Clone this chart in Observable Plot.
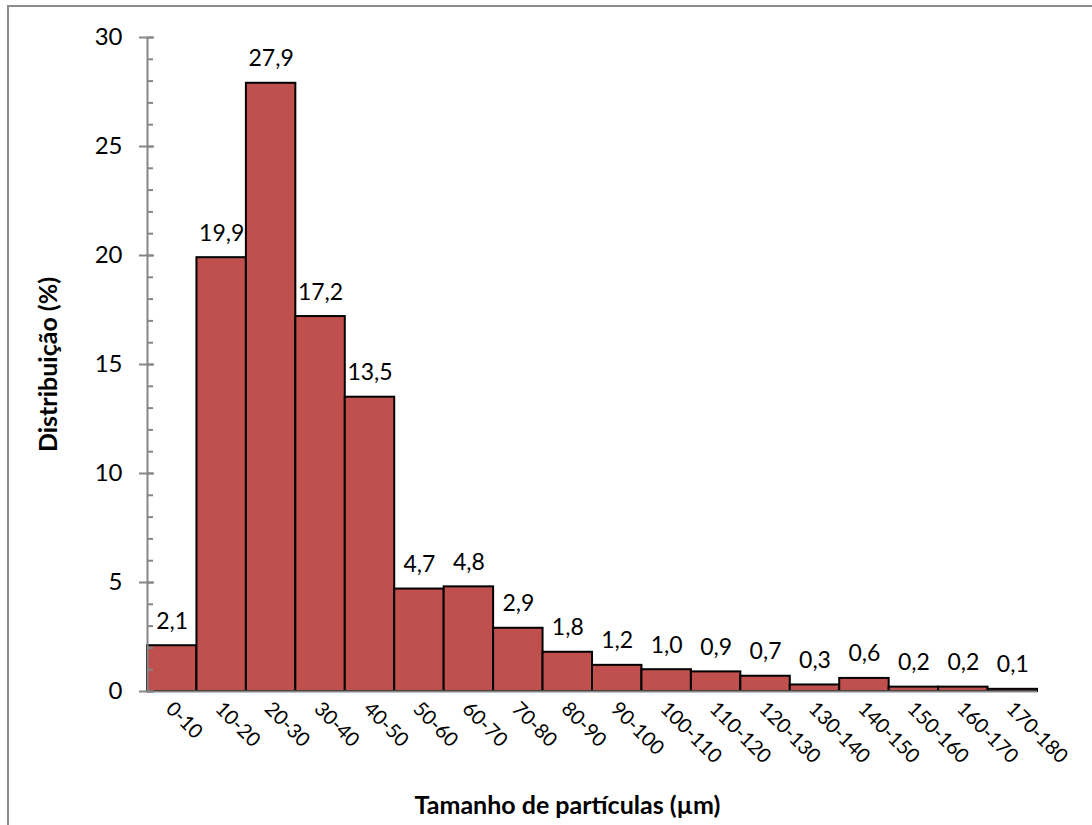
<!DOCTYPE html>
<html>
<head>
<meta charset="utf-8">
<script src="https://cdn.jsdelivr.net/npm/d3@7"></script>
<script src="https://cdn.jsdelivr.net/npm/@observablehq/plot@0.6"></script>
<style>
  html, body { margin: 0; padding: 0; background: white; overflow: hidden; }
  #wrap { position: relative; width: 1092px; height: 825px; }
  #border { position: absolute; left: 7px; top: 5px; width: 1200px; height: 1000px; border: 2px solid #8c8c8c; pointer-events: none; box-sizing: border-box; }
</style>
</head>
<body>
<div id="wrap"><div id="border"></div></div>
<script>
const categories = ["0-10","10-20","20-30","30-40","40-50","50-60","60-70","70-80","80-90","90-100","100-110","110-120","120-130","130-140","140-150","150-160","160-170","170-180"];
const values = [2.1, 19.9, 27.9, 17.2, 13.5, 4.7, 4.8, 2.9, 1.8, 1.2, 1.0, 0.9, 0.7, 0.3, 0.6, 0.2, 0.2, 0.1];
const yMajorTicks = [0, 5, 10, 15, 20, 25, 30];
const yMinorTicks = d3.range(0, 31, 1);
const xTitle = "Tamanho de partículas (µm)";
const yTitle = "Distribuição (%)";

const data = categories.map((c, i) => ({cat: c, value: values[i]}));
const fmt = v => v.toFixed(1).replace(".", ",");

const W = 1092, H = 825, mL = 147, mR = 55, mT = 37, mB = 134;
const bw = (W - mL - mR) / categories.length;
const axisColor = "#868686";

const chart = Plot.plot({
  width: W, height: H,
  marginLeft: mL, marginRight: mR, marginTop: mT, marginBottom: mB,
  style: {fontFamily: "Lato, 'Noto Sans', sans-serif", fontSize: "23px", color: "black", background: "transparent", overflow: "visible"},
  x: {domain: categories, padding: 0, round: false, label: null},
  y: {domain: [0, 30], label: null},
  marks: [
    Plot.barY(data, {x: "cat", y: "value", fill: "#C0504D", stroke: "black", strokeWidth: 2}),
    Plot.ruleY([0], {stroke: axisColor, strokeWidth: 2}),
    Plot.ruleX([categories[0]], {y1: 0, y2: 30, dx: -bw / 2, stroke: axisColor, strokeWidth: 2}),
    Plot.axisY(yMinorTicks, {tickSize: 6, dx: 6, text: null, stroke: axisColor, strokeWidth: 2}),
    Plot.axisY(yMajorTicks, {tickSize: 15, dx: 7, text: null, stroke: axisColor, strokeWidth: 2}),
    Plot.axisY(yMajorTicks, {tickSize: 0, tickPadding: 25, fontSize: 24, fill: "black"}),
    Plot.axisX({tickSize: 0, tickRotate: 45, tickPadding: 14, dx: -3, fontSize: 20, fill: "black"}),
    Plot.text(data, {x: "cat", y: "value", text: d => fmt(d.value), dy: -17, lineAnchor: "bottom", fontSize: 23, fill: "black"}),
    Plot.text([xTitle], {frameAnchor: "bottom", dy: 114, dx: -25, textAnchor: "middle", lineAnchor: "middle", fontSize: 25, fontWeight: "bold", fill: "black"}),
    Plot.text([yTitle], {frameAnchor: "left", dx: -99, rotate: -90, textAnchor: "middle", lineAnchor: "middle", fontSize: 25, fontWeight: "bold", fill: "black"})
  ]
});
chart.style.position = "absolute";
chart.style.left = "0px";
chart.style.top = "0px";
document.getElementById("wrap").appendChild(chart);
</script>
</body>
</html>
